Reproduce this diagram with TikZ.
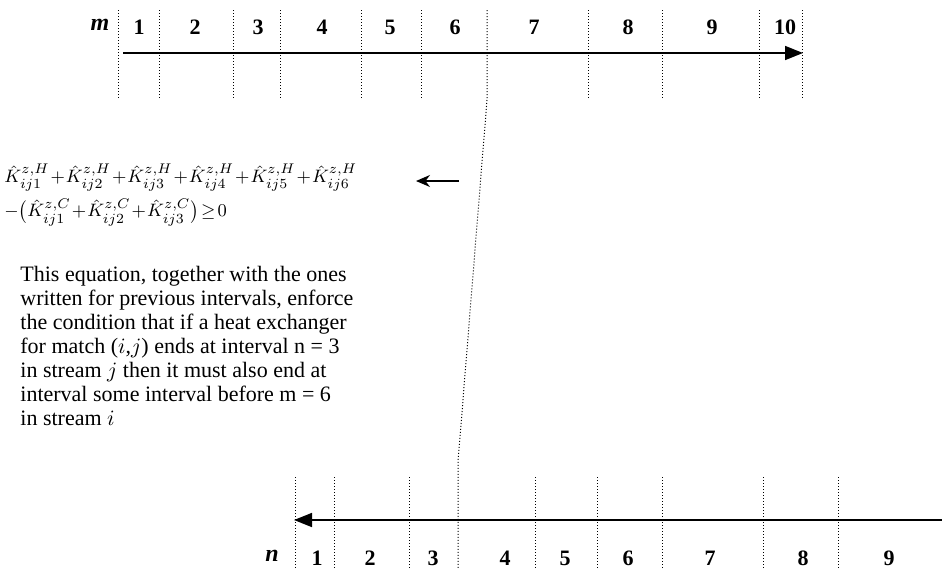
\documentclass[tikz,border=0pt]{standalone}
\usepackage{amsmath,amssymb}
\usepackage{fontspec}
\setmainfont{Liberation Serif}
\usetikzlibrary{positioning,arrows.meta,calc}
\newcommand{\tightops}{\medmuskip=1mu\relax\thickmuskip=2mu\relax}
\tikzset{
  tick/.style={densely dotted,line width=0.5pt},
  axisline/.style={draw,line width=0.8pt},
  numlbl/.style={font=\fontsize{11}{13}\selectfont\bfseries,inner sep=1pt},
  axislbl/.style={font=\fontsize{12}{13}\selectfont\bfseries\itshape,inner sep=1pt},
  bigtip/.style={-{Triangle[length=9pt,width=7pt]}},
  eqline/.style={inner sep=0pt,font=\fontsize{9.5}{11}\selectfont},
  note/.style={font=\fontsize{11}{12}\selectfont,align=left,inner sep=0pt},
}

\begin{document}
\begin{tikzpicture}[x=0.5pt,y=-0.5pt]
\useasboundingbox (0,0) rectangle (942,568);

% interval boundaries of stream i (top)
\foreach \x in {118,159,233,280,361,421,588,662,759,802}
  \draw[tick] (\x,10) -- (\x,100);
\foreach \x/\t in {139/1,195/2,258/3,322/4,390/5,455/6,534/7,628/8,712/9,785/10}
  \node[numlbl] (m\t) at (\x,27) {\t};
\node[axislbl] (mlbl) at (100,25) {m};

\coordinate (mstart) at (123,53);
\coordinate (mend) at (803,53);
\draw[axisline,bigtip] (mstart) -- (mend);

% interval boundaries of stream j (bottom)
\foreach \x in {295,334,409,535,597,662,763,838}
  \draw[tick] (\x,477) -- (\x,568);
\foreach \x/\t in {317/1,370/2,433/3,505/4,565/5,628/6,710/7,803/8,889/9}
  \node[numlbl] (n\t) at (\x,558) {\t};
\node[axislbl] (nlbl) at (272,556) {n};

\coordinate (nstart) at (942,520);
\coordinate (nend) at (294,520);
\draw[axisline,bigtip] (nstart) -- (nend);

% boundary m = 6 linked to n = 3
\coordinate (ltop) at (487,10);
\coordinate (lbend) at (487,100);
\coordinate (lfoot) at (458,462);
\coordinate (lbot) at (458,568);
\draw[tick] (ltop) -- (lbend) -- (lfoot) -- (lbot);

% the constraint
\node[eqline,anchor=west] (eqtop) at (4,178)
  {$\tightops\hat{K}_{ij1}^{z,H}+\hat{K}_{ij2}^{z,H}+\hat{K}_{ij3}^{z,H}+\hat{K}_{ij4}^{z,H}+\hat{K}_{ij5}^{z,H}+\hat{K}_{ij6}^{z,H}$};
\node[eqline,below right=3pt and 0pt of eqtop.south west] (eqbot)
  {$\tightops-\bigl(\hat{K}_{ij1}^{z,C}+\hat{K}_{ij2}^{z,C}+\hat{K}_{ij3}^{z,C}\bigr)\geq 0$};

\coordinate (ptail) at (459,181);
\coordinate (phead) at (416,181);
\draw[line width=0.8pt,-{Stealth[length=7pt,width=6pt]}] (ptail) -- (phead);

\node[note,anchor=north west] (expl) at (20,266)
  {This equation, together with the ones\\
   written for previous intervals, enforce\\
   the condition that if a heat exchanger\\
   for match ($i$,$j$) ends at interval n = 3\\
   in stream $j$ then it must also end at\\
   interval some interval before m = 6\\
   in stream $i$};

\end{tikzpicture}
\end{document}
